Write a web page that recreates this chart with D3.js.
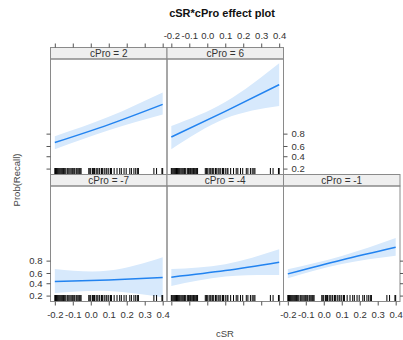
<!DOCTYPE html>
<html>
<head>
<meta charset="utf-8">
<script src="https://cdn.jsdelivr.net/npm/d3@7"></script>
<style>
  body { margin: 0; background: #fff; }
  svg { font-family: "Liberation Sans", Arial, sans-serif; }
</style>
</head>
<body>
<svg id="chart" width="403" height="340"></svg>
<script>
// values (probabilities), at cSR = -0.2, 0.1, 0.4
const cSR = [-0.2, 0.1, 0.4];
const cProLevels = [-7, -4, -1, 2, 6];
const fitVals = [
  [0.431, 0.464, 0.510],
  [0.518, 0.645, 0.779],
  [0.583, 0.809, 0.921],
  [0.663, 0.891, 0.976],
  [0.754, 0.959, 0.9949]
];
const lowerVals = [
  [0.236, 0.266, 0.180],
  [0.350, 0.530, 0.563],
  [0.498, 0.755, 0.856],
  [0.536, 0.839, 0.948],
  [0.536, 0.930, 0.973]
];
const upperVals = [
  [0.675, 0.645, 0.840],
  [0.675, 0.751, 0.908],
  [0.670, 0.853, 0.960],
  [0.764, 0.938, 0.9905],
  [0.880, 0.980, 0.99906]
];
// observed cSR values for the rug
const rugVals = [
  -0.2, -0.196, -0.191, -0.186, -0.181, -0.176, -0.171, -0.166, -0.161, -0.156, -0.151,
  -0.145, -0.139, -0.131, -0.126, -0.12, -0.111, -0.105, -0.1, -0.094, -0.089, -0.081,
  -0.076, -0.07, -0.064, -0.059, -0.054,
  -0.011, -0.005, 0.0, 0.01, 0.016, 0.021, 0.03, 0.036, 0.046, 0.05, 0.06, 0.066,
  0.075, 0.085, 0.09, 0.1, 0.11, 0.115,
  0.13, 0.146, 0.161, 0.17, 0.185, 0.197, 0.217, 0.226, 0.24, 0.25, 0.259, 0.265,
  0.351, 0.366, 0.396, 0.4
];
const xTicks = [-0.2, -0.1, 0.0, 0.1, 0.2, 0.3, 0.4];
const yTicks = [0.2, 0.4, 0.6, 0.8];

const logit = p => Math.log(p / (1 - p));
const invlogit = l => 1 / (1 + Math.exp(-l));

const svg = d3.select("#chart");

// layout (lattice style: 3 columns x 2 rows)
const left = 50.5, pw = 116.5;
const stripH = 11.5, ph = 115.5;
const rowTop = [47.5, 47.5 + stripH + ph]; // strip tops: row 0 = top row
const lineCol = "#2283f0", bandCol = "#d7e9fc";
const borderCol = "#8a8a8a", tickCol = "#555", textCol = "#333";

// scales with 4% padding like lattice
function padded(ext) {
  const d = (ext[1] - ext[0]) * 0.04;
  return [ext[0] - d, ext[1] + d];
}
const x = d3.scaleLinear().domain(padded([-0.2, 0.4])).range([0, pw]);
const allLogits = lowerVals.flat().concat(upperVals.flat()).map(logit);
const y = d3.scaleLinear().domain(padded(d3.extent(allLogits))).range([ph, 0]);

const fmtX = d => d.toFixed(1);
const fmtY = d => invlogit(d).toFixed(1);
const yTickLogits = yTicks.map(logit);

// panel positions: bottom row -7,-4,-1 ; top row 2,6
const panels = cProLevels.map((lev, i) => {
  const row = i < 3 ? 1 : 0;
  const col = i < 3 ? i : i - 3;
  return { lev, i, row, col, x0: left + col * pw, y0: rowTop[row] };
});

function styleAxis(g, labels) {
  g.select(".domain").remove();
  g.selectAll(".tick line").attr("stroke", tickCol);
  g.selectAll(".tick text").attr("fill", textCol).style("font-size", "9.5px")
    .style("font-family", "'Liberation Sans', Arial, sans-serif");
  if (!labels) g.selectAll(".tick text").remove();
}

const area = d3.area().curve(d3.curveNatural)
  .x((d, j) => x(cSR[j]))
  .y0(d => y(logit(d[0])))
  .y1(d => y(logit(d[1])));
const line = d3.line().curve(d3.curveNatural)
  .x((d, j) => x(cSR[j]))
  .y(d => y(logit(d)));

svg.append("defs").append("clipPath").attr("id", "pclip")
  .append("rect").attr("width", pw).attr("height", ph);

panels.forEach(p => {
  const g = svg.append("g").attr("transform", `translate(${p.x0},${p.y0})`);

  // strip
  g.append("rect").attr("width", pw).attr("height", stripH)
    .attr("fill", "#efefef").attr("stroke", borderCol);
  g.append("text").attr("x", pw / 2).attr("y", stripH / 2).attr("dy", "0.35em")
    .attr("text-anchor", "middle").attr("fill", textCol).style("font-size", "10px")
    .text("cPro = " + p.lev);

  const pg = g.append("g").attr("transform", `translate(0,${stripH})`);
  const body = pg.append("g").attr("clip-path", "url(#pclip)");

  const band = cSR.map((_, j) => [lowerVals[p.i][j], upperVals[p.i][j]]);
  body.append("path").attr("d", area(band)).attr("fill", bandCol);
  body.append("path").attr("d", line(fitVals[p.i])).attr("fill", "none")
    .attr("stroke", lineCol).attr("stroke-width", 1.5);

  // rug
  body.selectAll(".rug").data(rugVals).enter().append("line")
    .attr("x1", d => x(d)).attr("x2", d => x(d))
    .attr("y1", ph - 6.5).attr("y2", ph)
    .attr("stroke", "#000").attr("stroke-width", 1);

  pg.append("rect").attr("width", pw).attr("height", ph)
    .attr("fill", "none").attr("stroke", borderCol);

  // axes, alternating as in lattice
  if (p.row === 1) {
    pg.append("g").attr("transform", `translate(0,${ph})`)
      .call(d3.axisBottom(x).tickValues(xTicks).tickFormat(fmtX).tickSize(4).tickPadding(6))
      .call(a => styleAxis(a, p.col !== 1));
  } else {
    g.append("g")
      .call(d3.axisTop(x).tickValues(xTicks).tickFormat(fmtX).tickSize(4).tickPadding(5))
      .call(a => styleAxis(a, p.col === 1));
  }
  if (p.col === 0) {
    pg.append("g")
      .call(d3.axisLeft(y).tickValues(yTickLogits).tickFormat(fmtY).tickSize(4).tickPadding(4))
      .call(a => styleAxis(a, p.row === 1));
  }
  const lastCol = p.row === 1 ? 2 : 1;
  if (p.col === lastCol) {
    pg.append("g").attr("transform", `translate(${pw},0)`)
      .call(d3.axisRight(y).tickValues(yTickLogits).tickFormat(fmtY).tickSize(4).tickPadding(4))
      .call(a => styleAxis(a, p.row === 0));
  }
});

// titles
svg.append("text").attr("x", 222).attr("y", 17).attr("text-anchor", "middle")
  .attr("fill", "#111").style("font-size", "11px").style("font-weight", "bold")
  .text("cSR*cPro effect plot");
svg.append("text").attr("x", 225).attr("y", 336.5).attr("text-anchor", "middle")
  .attr("fill", "#444").style("font-size", "9.5px").text("cSR");
svg.append("text").attr("transform", "translate(17,180) rotate(-90)")
  .attr("text-anchor", "middle").attr("dy", "0.35em")
  .attr("fill", "#444").style("font-size", "9.5px").text("Prob(Recall)");
</script>
</body>
</html>
